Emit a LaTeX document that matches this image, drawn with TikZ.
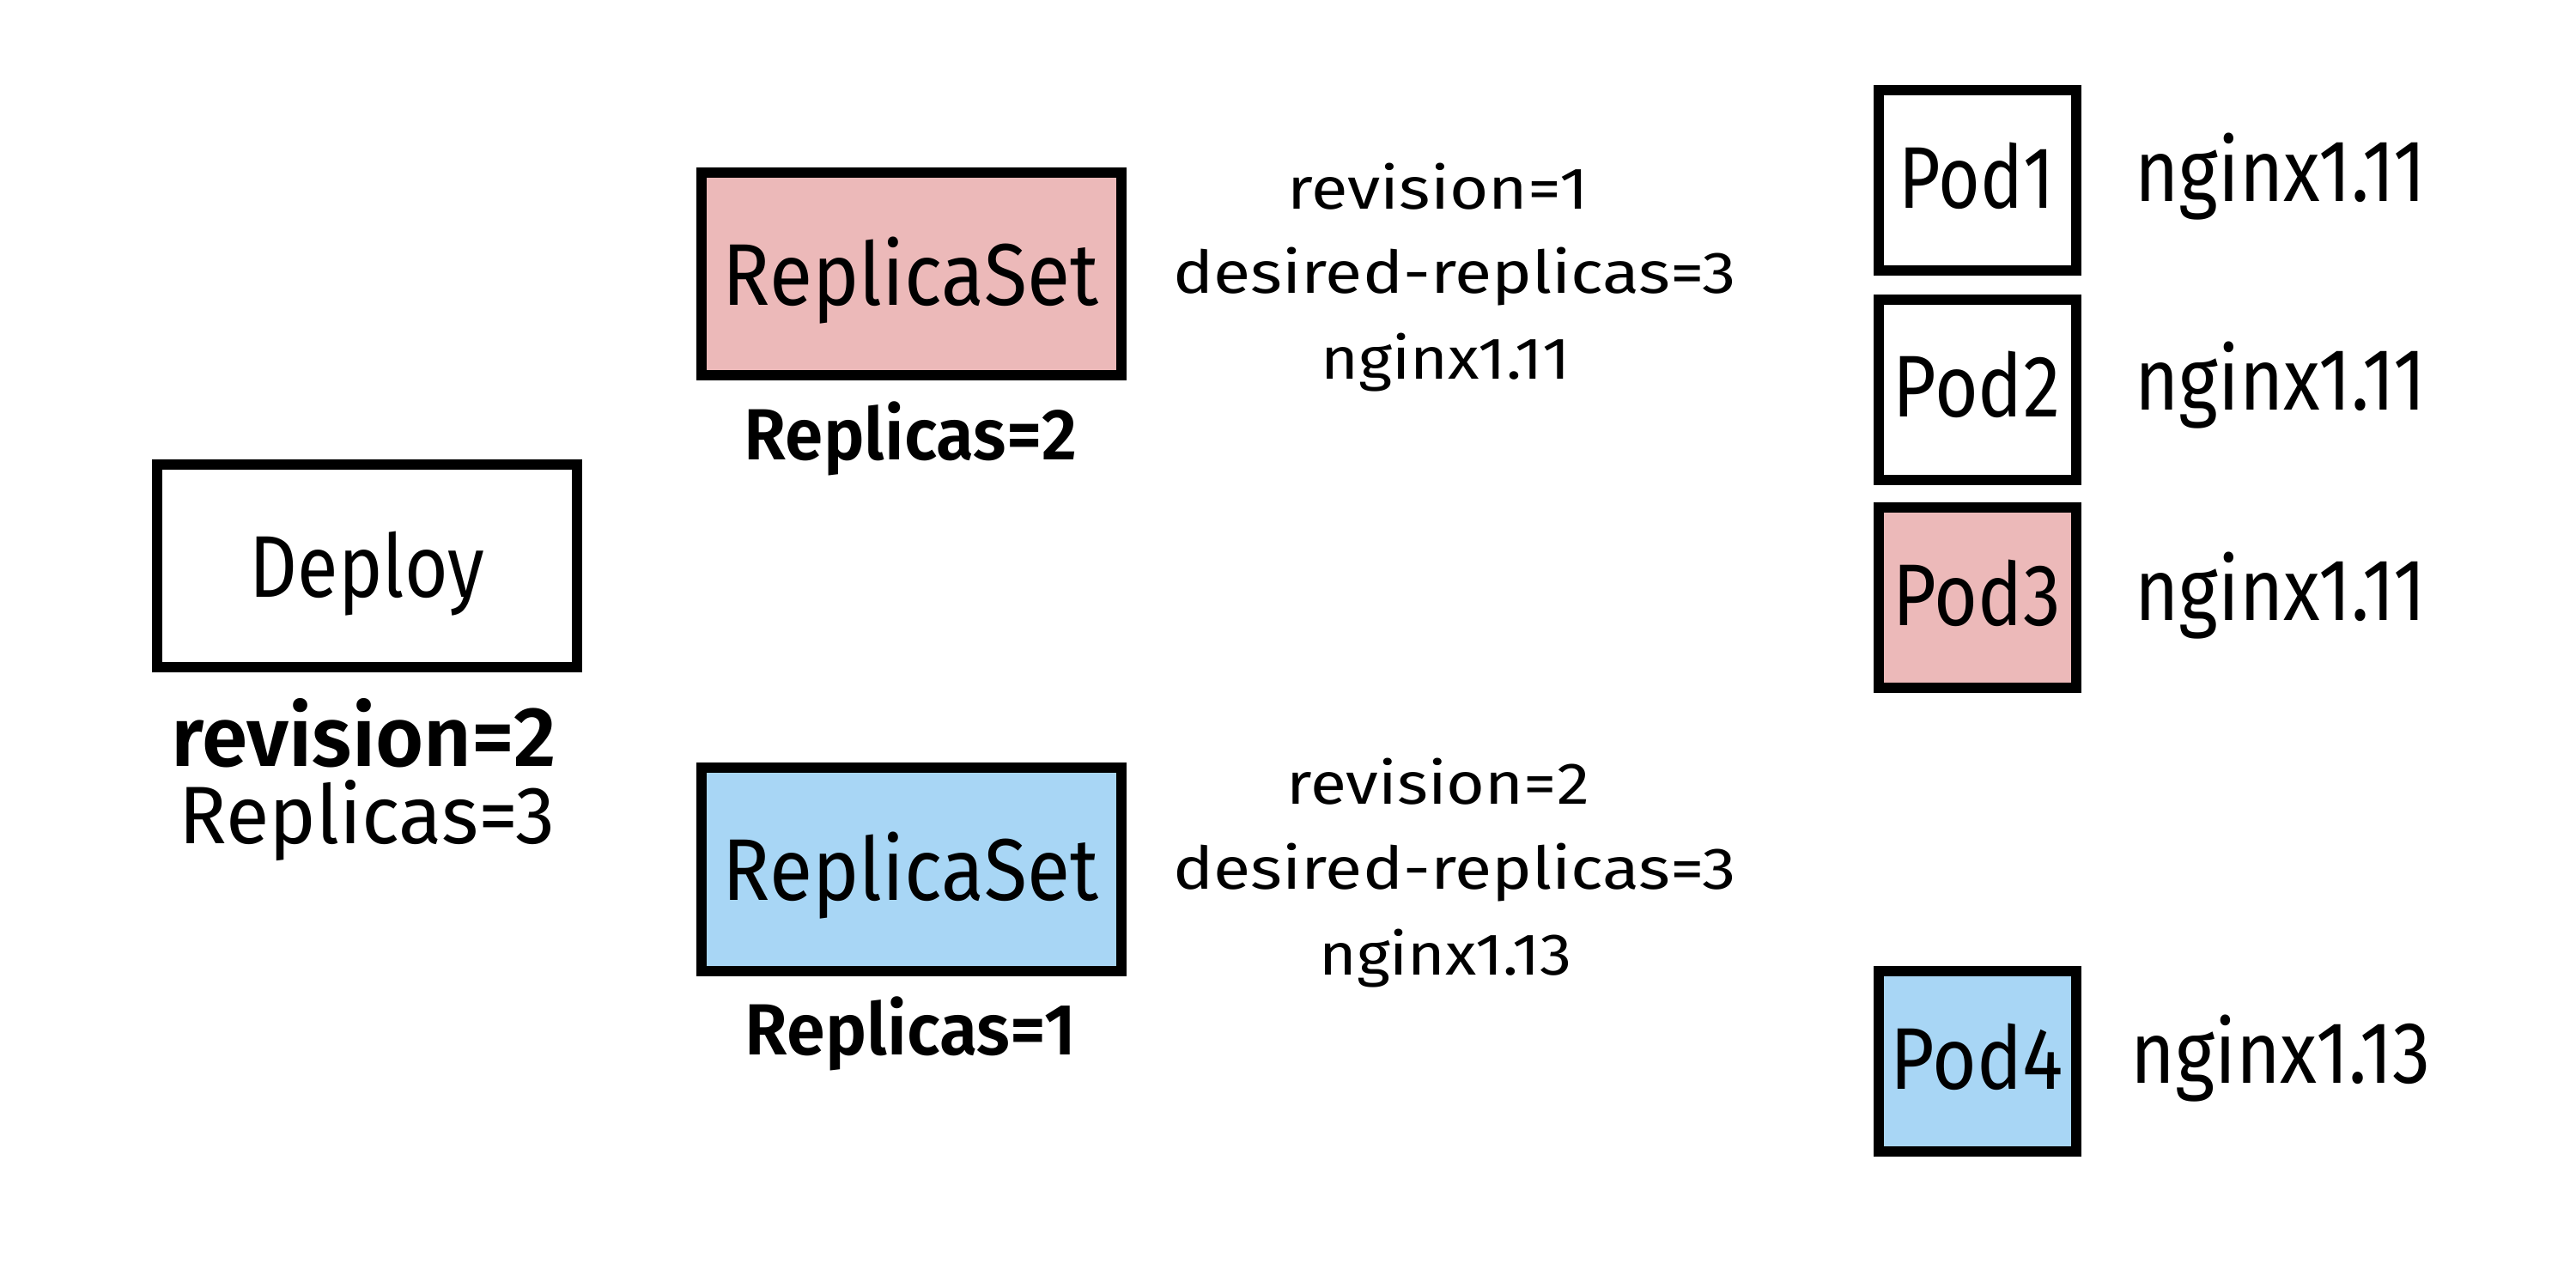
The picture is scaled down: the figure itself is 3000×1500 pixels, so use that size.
\documentclass[tikz,border=0pt]{standalone}
\usepackage{fontspec}
\usepackage{graphicx}
\setmainfont{Fira Sans}[BoldFont={Fira Sans SemiBold}]
\definecolor{rspink}{RGB}{236,185,185}
\definecolor{rsblue}{RGB}{168,214,245}
\newcommand{\fitw}[2]{\resizebox{#1}{\height}{#2}}
\begin{document}
\begin{tikzpicture}[x=0.01cm,y=-0.01cm,
  bigbox/.style={draw=black,line width=0.12cm,minimum width=4.89cm,minimum height=2.36cm,inner sep=0pt},
  podbox/.style={draw=black,line width=0.12cm,minimum width=2.30cm,minimum height=2.10cm,inner sep=0pt},
  lbl/.style={anchor=base,inner sep=0pt,outer sep=0pt},
  bigtxt/.style={lbl,font=\fontsize{29pt}{30pt}\selectfont},
  midtxt/.style={lbl,font=\fontsize{27pt}{29pt}\selectfont},
  boldtxt/.style={lbl,font=\fontsize{24pt}{26pt}\selectfont\bfseries},
  smalltxt/.style={lbl,font=\fontsize{19.5pt}{21pt}\selectfont}]
\fill[white] (0,0) rectangle (3000,1500);
\useasboundingbox (0,0) rectangle (3000,1500);

% Deploy
\node[bigbox,fill=white] (deploy) at (427.5,659) {};
\node[bigtxt] (deploytxt) at (427.5,695) {\fitw{2.73cm}{Deploy}};
\node[lbl,font=\fontsize{28pt}{30pt}\selectfont\bfseries] (deprev) at (424,892) {\fitw{4.48cm}{revision=2}};
\node[midtxt] (deprep) at (427.5,982) {\fitw{4.37cm}{Replicas=3}};

% ReplicaSets
\node[bigbox,fill=rspink] (rsold) at (1061.5,319) {};
\node[bigtxt] (rsoldtxt) at (1060.5,355) {\fitw{4.37cm}{ReplicaSet}};
\node[boldtxt] (rsoldrep) at (1060.5,535) {\fitw{3.87cm}{Replicas=2}};

\node[bigbox,fill=rsblue] (rsnew) at (1061.5,1012.5) {};
\node[bigtxt] (rsnewtxt) at (1060.5,1048.5) {\fitw{4.37cm}{ReplicaSet}};
\node[boldtxt] (rsnewrep) at (1060.5,1228.5) {\fitw{3.85cm}{Replicas=1}};

% info blocks
\node[smalltxt] (i1a) at (1675,243.5) {\fitw{3.50cm}{revision=1}};
\node[smalltxt] (i1b) at (1694,341.7) {\fitw{6.55cm}{desired-replicas=3}};
\node[smalltxt] (i1c) at (1683.5,441.7) {\fitw{2.90cm}{nginx1.11}};

\node[smalltxt] (i2a) at (1675,936.7) {\fitw{3.52cm}{revision=2}};
\node[smalltxt] (i2b) at (1694,1035) {\fitw{6.55cm}{desired-replicas=3}};
\node[smalltxt] (i2c) at (1683.5,1135) {\fitw{2.94cm}{nginx1.13}};

% Pods
\node[podbox,fill=white] (pod1) at (2303,210) {};
\node[podbox,fill=white] (pod2) at (2303,453.7) {};
\node[podbox,fill=rspink] (pod3) at (2303,696.3) {};
\node[podbox,fill=rsblue] (pod4) at (2303,1236.4) {};
\node[bigtxt] (pod1t) at (2302,242.4) {\fitw{1.81cm}{Pod1}};
\node[bigtxt] (pod2t) at (2302,485.7) {\fitw{1.94cm}{Pod2}};
\node[bigtxt] (pod3t) at (2302,728.6) {\fitw{1.95cm}{Pod3}};
\node[bigtxt] (pod4t) at (2302,1268.3) {\fitw{2.01cm}{Pod4}};

\node[bigtxt] (ng1) at (2656,235) {\fitw{3.39cm}{nginx1.11}};
\node[bigtxt] (ng2) at (2656,477.5) {\fitw{3.39cm}{nginx1.11}};
\node[bigtxt] (ng3) at (2656,722.3) {\fitw{3.39cm}{nginx1.11}};
\node[bigtxt] (ng4) at (2656,1261.7) {\fitw{3.49cm}{nginx1.13}};
\end{tikzpicture}
\end{document}
